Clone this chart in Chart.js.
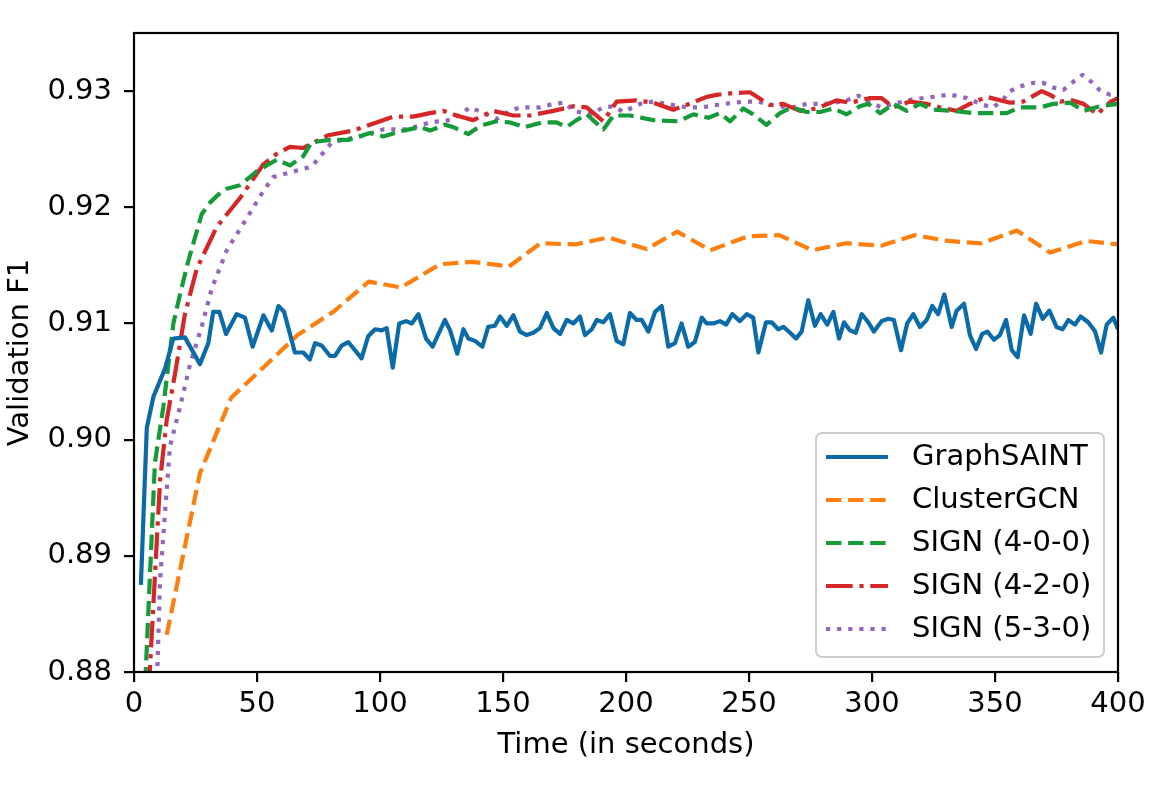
<!DOCTYPE html>
<html><head><meta charset="utf-8">
<script src="https://cdn.jsdelivr.net/npm/chart.js@4.4.1/dist/chart.umd.min.js"></script>
<style>html,body{margin:0;padding:0;background:#fff;}canvas{display:block;}</style>
</head><body>
<canvas id="c" width="1163" height="786"></canvas>
<script>
// ---------------- data ----------------
const seriesLabels = ['GraphSAINT', 'ClusterGCN', 'SIGN (4-0-0)', 'SIGN (4-2-0)', 'SIGN (5-3-0)'];

const graphSaintTime = [2.8,5.2,7.9,12.6,16.0,20.7,26.8,30.2,32.2,34.7,37.4,41.7,45.1,48.2,52.6,56.0,58.7,61.0,65.4,68.8,71.5,73.6,76.3,79.7,81.7,84.4,87.1,92.5,95.2,98.0,100.7,102.7,105.2,107.8,110.6,112.9,115.6,118.7,121.4,126.4,128.5,131.4,133.9,135.9,138.6,141.6,144.0,146.7,148.8,151.5,154.2,156.9,159.6,162.3,165.0,167.8,170.5,173.2,175.9,178.6,181.3,183.3,186.1,188.1,190.8,193.5,196.2,198.9,201.6,204.3,206.4,209.1,211.8,214.5,217.2,219.9,222.6,225.3,228.0,230.8,232.8,235.5,238.2,240.7,243.2,246.3,249.1,251.7,253.8,256.9,259.2,261.9,264.0,266.7,269.1,271.4,274.1,276.8,279.1,281.8,284.3,286.6,288.6,291.1,293.4,295.8,298.5,300.8,303.9,306.6,308.9,311.8,314.3,316.8,319.5,322.2,324.5,326.9,329.4,332.4,334.4,337.4,339.8,342.3,344.8,346.9,349.6,352.0,354.5,356.8,359.2,361.8,364.5,366.7,369.4,372.1,375.0,377.5,379.8,382.5,384.8,387.9,390.7,393.1,395.4,398.1,400.0];
const graphSaintF1 = [0.8875,0.9010,0.9037,0.9061,0.9087,0.9088,0.9065,0.9083,0.9110,0.9110,0.9091,0.9108,0.9105,0.9080,0.9107,0.9094,0.9115,0.9110,0.9075,0.9075,0.9069,0.9083,0.9081,0.9072,0.9072,0.9081,0.9084,0.9070,0.9089,0.9095,0.9094,0.9096,0.9062,0.9100,0.9102,0.9100,0.9108,0.9087,0.9080,0.9103,0.9094,0.9074,0.9095,0.9087,0.9085,0.9080,0.9097,0.9098,0.9106,0.9098,0.9107,0.9093,0.9090,0.9092,0.9096,0.9109,0.9096,0.9091,0.9103,0.9100,0.9106,0.9090,0.9095,0.9103,0.9101,0.9108,0.9085,0.9082,0.9109,0.9103,0.9103,0.9093,0.9110,0.9115,0.9080,0.9083,0.9100,0.9080,0.9084,0.9105,0.9100,0.9100,0.9102,0.9099,0.9108,0.9102,0.9108,0.9105,0.9075,0.9101,0.9101,0.9095,0.9097,0.9092,0.9087,0.9093,0.9120,0.9098,0.9108,0.9099,0.9110,0.9087,0.9101,0.9094,0.9092,0.9108,0.9101,0.9093,0.9102,0.9104,0.9103,0.9077,0.9100,0.9108,0.9097,0.9103,0.9115,0.9108,0.9125,0.9097,0.9111,0.9117,0.9090,0.9078,0.9091,0.9093,0.9086,0.9090,0.9103,0.9077,0.9071,0.9107,0.9091,0.9117,0.9104,0.9111,0.9097,0.9095,0.9103,0.9099,0.9106,0.9101,0.9093,0.9075,0.9099,0.9105,0.9095];

const clusterGcnTime = [13.3,26.8,39.5,53.0,66.5,81.0,95.5,108.5,124.4,137.9,152.4,165.2,179.3,192.8,208.4,220.8,234.3,249.5,262.3,275.8,289.3,303.9,317.3,330.9,344.4,358.9,372.4,386.9,400.0];
const clusterGcnF1 = [0.8832,0.8971,0.9036,0.9063,0.9090,0.9110,0.9136,0.9131,0.9151,0.9153,0.9149,0.9169,0.9168,0.9174,0.9164,0.9179,0.9163,0.9175,0.9176,0.9163,0.9169,0.9167,0.9176,0.9171,0.9169,0.9180,0.9161,0.9171,0.9168];

const sign400Time = [3.0,8.5,11.9,16.0,18.7,22.1,27.5,30.9,34.3,37.7,43.1,49.9,58.0,63.4,68.8,72.2,79.7,87.1,96.0,101.3,109.5,116.3,120.3,126.4,129.8,135.9,140.7,147.4,152.8,158.9,165.7,171.8,175.8,179.9,184.0,190.8,194.9,201.6,211.1,221.3,227.4,233.5,238.2,242.3,247.7,251.7,257.1,262.6,267.4,273.4,278.9,284.3,289.7,295.1,298.5,303.3,308.7,314.1,319.5,324.9,333.0,341.2,348.0,354.7,360.2,368.3,373.7,380.6,386.0,392.9,400.0];
const sign400F1 = [0.8715,0.8980,0.9028,0.9100,0.9125,0.9154,0.9194,0.9204,0.9211,0.9216,0.9219,0.9231,0.9241,0.9236,0.9244,0.9256,0.9258,0.9258,0.9264,0.9261,0.9266,0.9269,0.9266,0.9271,0.9269,0.9263,0.9270,0.9274,0.9273,0.9269,0.9273,0.9273,0.9269,0.9275,0.9280,0.9267,0.9279,0.9279,0.9275,0.9274,0.9280,0.9277,0.9281,0.9274,0.9285,0.9280,0.9271,0.9281,0.9286,0.9282,0.9282,0.9285,0.9280,0.9287,0.9289,0.9281,0.9289,0.9283,0.9289,0.9284,0.9283,0.9281,0.9281,0.9281,0.9286,0.9286,0.9289,0.9290,0.9283,0.9287,0.9289];

const sign420Time = [5.0,10.6,13.3,16.7,20.7,25.5,33.6,43.1,52.6,58.0,63.4,68.8,74.2,79.0,89.1,98.6,105.4,113.5,120.3,125.7,131.1,137.9,146.0,154.2,161.0,170.5,178.6,184.0,190.8,196.2,204.3,211.1,219.2,224.6,232.8,237.5,242.3,250.4,258.5,263.9,270.7,277.5,285.6,291.0,299.2,303.9,308.7,315.4,322.2,327.6,334.4,339.8,346.6,356.1,361.5,369.0,373.1,376.5,381.3,386.0,391.5,397.1,400.0];
const sign420F1 = [0.8745,0.8965,0.9017,0.9057,0.9108,0.9147,0.9183,0.9208,0.9237,0.9246,0.9252,0.9251,0.9257,0.9262,0.9266,0.9273,0.9278,0.9278,0.9281,0.9283,0.9279,0.9275,0.9283,0.9279,0.9279,0.9283,0.9287,0.9286,0.9274,0.9291,0.9292,0.9290,0.9284,0.9288,0.9295,0.9297,0.9298,0.9299,0.9288,0.9289,0.9283,0.9285,0.9292,0.9290,0.9294,0.9294,0.9286,0.9291,0.9289,0.9286,0.9283,0.9289,0.9295,0.9290,0.9291,0.9300,0.9296,0.9291,0.9292,0.9289,0.9280,0.9291,0.9294];

const sign530Time = [8.0,10.6,12.6,14.6,18.7,22.8,27.5,31.6,37.7,45.1,52.6,56.6,63.4,72.2,80.5,92.0,101.3,110.8,120.3,128.5,132.6,136.6,143.4,147.4,152.8,156.9,165.0,170.5,175.2,178.6,185.4,190.8,194.9,198.9,205.7,211.1,216.5,224.6,230.8,236.7,243.5,248.9,253.6,261.1,267.9,273.4,281.5,289.7,294.5,299.2,303.9,308.7,316.8,324.9,331.7,338.5,345.3,349.3,353.4,356.1,360.2,365.6,369.6,373.7,377.8,381.8,385.6,389.2,392.5,396.6,400.0];
const sign530F1 = [0.8700,0.8879,0.8937,0.8994,0.9028,0.9065,0.9097,0.9130,0.9163,0.9188,0.9214,0.9226,0.9230,0.9235,0.9256,0.9261,0.9267,0.9267,0.9273,0.9275,0.9280,0.9286,0.9280,0.9276,0.9283,0.9286,0.9286,0.9289,0.9290,0.9283,0.9280,0.9286,0.9287,0.9282,0.9289,0.9291,0.9289,0.9286,0.9286,0.9288,0.9290,0.9291,0.9291,0.9287,0.9286,0.9289,0.9289,0.9292,0.9296,0.9290,0.9286,0.9289,0.9293,0.9295,0.9297,0.9294,0.9288,0.9286,0.9293,0.9300,0.9304,0.9307,0.9307,0.9303,0.9301,0.9308,0.9314,0.9308,0.9301,0.9297,0.9297];

const xTickValues = [0, 50, 100, 150, 200, 250, 300, 350, 400];
const yTickValues = [0.88, 0.89, 0.90, 0.91, 0.92, 0.93];

// ---------------- styles ----------------
const FONT = '"DejaVu Sans", sans-serif';
const FS = 29;
const LW = 4.2;
const styles = [
  { color: '#0b6aa8', dash: [] },
  { color: '#ff7f0e', dash: [15.4, 6.7] },
  { color: '#169b3a', dash: [15.4, 6.7] },
  { color: '#d62728', dash: [26.7, 6.7, 4.2, 6.7] },
  { color: '#9467bd', dash: [4.2, 6.9] }
];
const seriesData = [
  [graphSaintTime, graphSaintF1],
  [clusterGcnTime, clusterGcnF1],
  [sign400Time, sign400F1],
  [sign420Time, sign420F1],
  [sign530Time, sign530F1]
];

const datasets = seriesData.map((s, i) => ({
  label: seriesLabels[i],
  data: s[0].map((t, k) => ({ x: t, y: s[1][k] })),
  borderColor: styles[i].color,
  backgroundColor: styles[i].color,
  borderWidth: LW,
  borderDash: styles[i].dash,
  borderCapStyle: 'butt',
  borderJoinStyle: 'round',
  pointRadius: 0,
  pointHoverRadius: 0,
  tension: 0,
  fill: false,
  clip: 0
}));

const framePlugin = {
  id: 'frame',
  afterDatasetsDraw(chart) {
    const { ctx, chartArea: a } = chart;
    ctx.save();
    ctx.strokeStyle = '#000';
    ctx.lineWidth = 2.2;
    ctx.strokeRect(a.left, a.top, a.right - a.left, a.bottom - a.top);
    ctx.restore();
  }
};

const legendPlugin = {
  id: 'innerLegend',
  afterDraw(chart) {
    const ctx = chart.ctx;
    const bx = 816, by = 433, bw = 288, bh = 224, r = 6;
    ctx.save();
    ctx.beginPath();
    ctx.moveTo(bx + r, by);
    ctx.arcTo(bx + bw, by, bx + bw, by + bh, r);
    ctx.arcTo(bx + bw, by + bh, bx, by + bh, r);
    ctx.arcTo(bx, by + bh, bx, by, r);
    ctx.arcTo(bx, by, bx + bw, by, r);
    ctx.closePath();
    ctx.fillStyle = 'rgba(255,255,255,0.8)';
    ctx.fill();
    ctx.strokeStyle = '#cccccc';
    ctx.lineWidth = 2;
    ctx.stroke();
    chart.data.datasets.forEach((ds, i) => {
      const y = 457 + i * 43;
      ctx.beginPath();
      ctx.setLineDash(styles[i].dash);
      ctx.lineCap = 'butt';
      ctx.strokeStyle = styles[i].color;
      ctx.lineWidth = LW;
      ctx.moveTo(826, y);
      ctx.lineTo(888, y);
      ctx.stroke();
      ctx.setLineDash([]);
      ctx.fillStyle = '#000';
      ctx.font = FS + 'px ' + FONT;
      ctx.textBaseline = 'middle';
      ctx.textAlign = 'left';
      ctx.fillText(ds.label, 912, y);
    });
    ctx.restore();
  }
};

new Chart(document.getElementById('c'), {
  type: 'line',
  data: { datasets },
  plugins: [framePlugin, legendPlugin],
  options: {
    responsive: false,
    devicePixelRatio: 1,
    animation: false,
    layout: { padding: { left: 0, right: 45, top: 33, bottom: 0 } },
    plugins: { legend: { display: false }, tooltip: { enabled: false } },
    scales: {
      x: {
        type: 'linear',
        min: 0, max: 400,
        afterBuildTicks: s => { s.ticks = xTickValues.map(v => ({ value: v })); },
        afterFit: s => { s.height = 114; },
        border: { display: false },
        grid: { drawOnChartArea: false, drawTicks: true, tickLength: 10, color: '#000', lineWidth: 2.2 },
        ticks: { color: '#000', font: { family: FONT, size: FS }, padding: 5, maxRotation: 0, autoSkip: false,
                 callback: v => String(v) },
        title: { display: true, text: 'Time (in seconds)', color: '#000', font: { family: FONT, size: FS }, padding: { top: 0, bottom: 23 } }
      },
      y: {
        type: 'linear',
        min: 0.88, max: 0.935,
        afterBuildTicks: s => { s.ticks = yTickValues.map(v => ({ value: v })); },
        afterFit: s => { s.width = 134; },
        border: { display: false },
        grid: { drawOnChartArea: false, drawTicks: true, tickLength: 10, color: '#000', lineWidth: 2.2 },
        ticks: { color: '#000', font: { family: FONT, size: FS }, padding: 12, autoSkip: false,
                 callback: v => Number(v).toFixed(2) },
        title: { display: true, text: 'Validation F1', color: '#000', font: { family: FONT, size: FS }, padding: { top: 3, bottom: 0 } }
      }
    }
  }
});
</script>
</body></html>
